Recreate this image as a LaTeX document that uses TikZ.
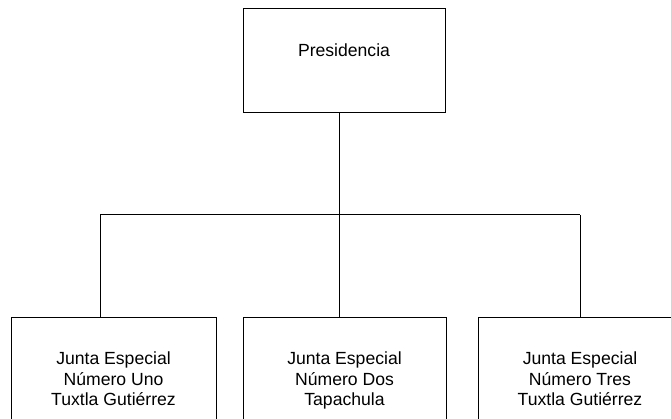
\documentclass[tikz,border=0pt]{standalone}
\usepackage{fontspec}
\setmainfont{Liberation Sans}
\begin{document}
\begin{tikzpicture}[x=1pt,y=-1pt,
  box/.style={draw, line width=1pt, rectangle, inner sep=0pt, align=center,
    font=\fontsize{17.6}{20.5}\selectfont},
  jbox/.style={box, minimum height=126.8pt, anchor=north},
  wire/.style={line width=1pt}]
\useasboundingbox (0,0) rectangle (671,419);
\clip (0,0) rectangle (671,419);
\node[box, minimum width=202pt, minimum height=104pt, text height=12.8pt, text depth=20.8pt] (pres) at (344,61) {Presidencia};
\node[jbox, minimum width=205pt] (j1) at (113.5,317) {\strut Junta Especial\\Número Uno\\Tuxtla Gutiérrez\strut};
\node[jbox, minimum width=203pt] (j2) at (344.5,317) {\strut Junta Especial\\Número Dos\\Tapachula\strut};
\node[jbox, minimum width=203pt] (j3) at (580,317) {\strut Junta Especial\\Número Tres\\Tuxtla Gutiérrez\strut};
\coordinate (stem) at (339,215);
\coordinate (b1) at (100,215);
\coordinate (b3) at (580,215);
\draw[wire] (stem |- pres.south) -- (stem);
\draw[wire] (b1) -- (b3);
\draw[wire] (b1) -- (b1 |- j1.north);
\draw[wire] (stem) -- (stem |- j2.north);
\draw[wire] (b3) -- (b3 |- j3.north);
\end{tikzpicture}
\end{document}
